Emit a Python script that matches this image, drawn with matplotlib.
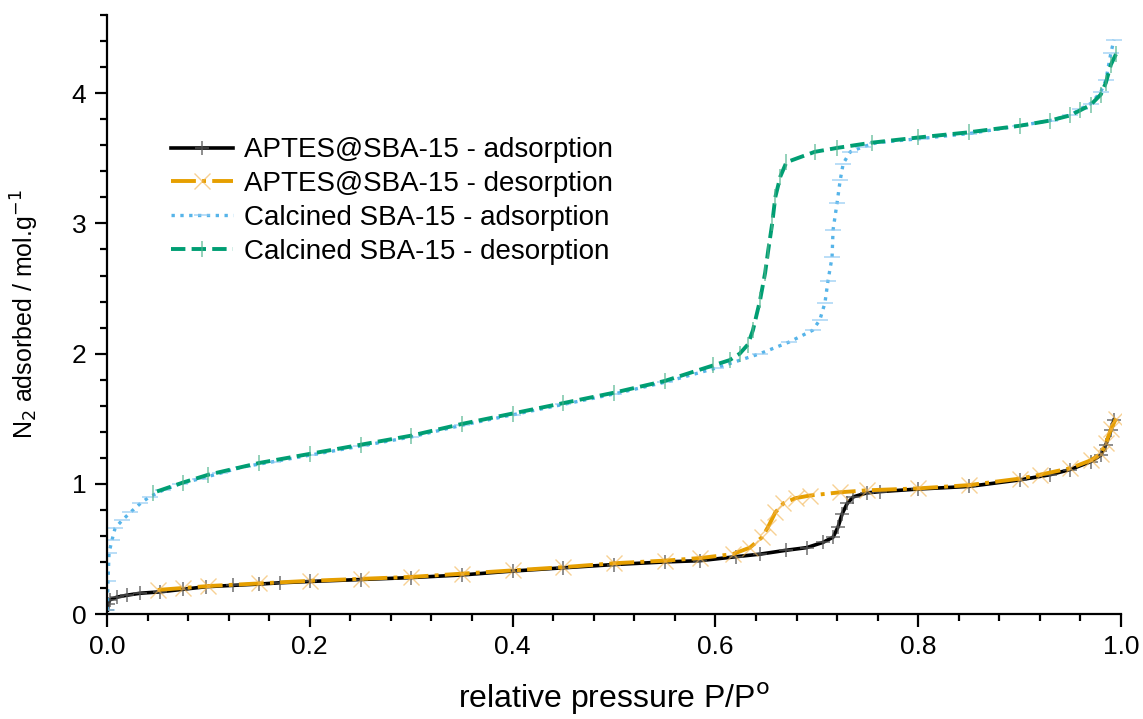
import matplotlib
matplotlib.use("Agg")
import matplotlib.pyplot as plt
from matplotlib.ticker import MultipleLocator

plt.rcParams['font.family'] = ['Liberation Sans', 'DejaVu Sans']

# APTES@SBA-15 adsorption
aptes_ads_p = [0.0005, 0.001, 0.003, 0.01, 0.02, 0.033, 0.052, 0.075, 0.098, 0.124,
               0.15, 0.171, 0.2, 0.25, 0.3, 0.35, 0.4, 0.45, 0.5, 0.55,
               0.585, 0.62, 0.644, 0.67, 0.69, 0.706, 0.716, 0.721, 0.725, 0.73,
               0.736, 0.749, 0.762, 0.8, 0.85, 0.9, 0.93, 0.95, 0.97, 0.98,
               0.985, 0.99, 0.993]
aptes_ads_v = [0.03, 0.08, 0.11, 0.13, 0.145, 0.16, 0.17, 0.19, 0.21, 0.22,
               0.23, 0.24, 0.25, 0.265, 0.28, 0.30, 0.33, 0.355, 0.38, 0.40,
               0.41, 0.44, 0.46, 0.49, 0.51, 0.55, 0.59, 0.67, 0.77, 0.85,
               0.90, 0.93, 0.94, 0.96, 0.98, 1.03, 1.07, 1.11, 1.17, 1.22,
               1.30, 1.41, 1.49]

# APTES@SBA-15 desorption
aptes_des_p = [0.995, 0.99, 0.985, 0.98, 0.97, 0.95, 0.92, 0.9, 0.85, 0.8,
               0.749, 0.723, 0.693, 0.679, 0.667, 0.659, 0.652, 0.646, 0.634, 0.617,
               0.585, 0.55, 0.5, 0.45, 0.4, 0.35, 0.3, 0.25, 0.2, 0.15,
               0.1, 0.075, 0.05]
aptes_des_v = [1.50, 1.42, 1.31, 1.23, 1.18, 1.12, 1.07, 1.04, 0.99, 0.965,
               0.95, 0.935, 0.91, 0.89, 0.85, 0.78, 0.67, 0.59, 0.51, 0.46,
               0.43, 0.41, 0.39, 0.36, 0.335, 0.31, 0.285, 0.27, 0.255, 0.235,
               0.215, 0.20, 0.185]

# Calcined SBA-15 adsorption
calc_ads_p = [0.0003, 0.001, 0.002, 0.005, 0.008, 0.015, 0.023, 0.033, 0.042, 0.055,
              0.072, 0.092, 0.111, 0.134, 0.164, 0.2, 0.25, 0.3, 0.35, 0.4,
              0.45, 0.5, 0.55, 0.601, 0.644, 0.673, 0.696, 0.703, 0.708, 0.711,
              0.715, 0.716, 0.72, 0.723, 0.726, 0.733, 0.746, 0.759, 0.8, 0.85,
              0.9, 0.93, 0.95, 0.96, 0.97, 0.98, 0.985, 0.99, 0.993]
calc_ads_v = [0.03, 0.25, 0.47, 0.57, 0.66, 0.72, 0.78, 0.85, 0.90, 0.95,
              1.00, 1.04, 1.08, 1.13, 1.17, 1.22, 1.29, 1.36, 1.45, 1.53,
              1.61, 1.69, 1.78, 1.89, 2.00, 2.09, 2.18, 2.26, 2.39, 2.56,
              2.74, 2.95, 3.16, 3.33, 3.46, 3.55, 3.59, 3.62, 3.65, 3.69,
              3.75, 3.79, 3.83, 3.88, 3.92, 4.01, 4.10, 4.31, 4.41]

# Calcined SBA-15 desorption
calc_des_p = [0.995, 0.99, 0.985, 0.98, 0.97, 0.96, 0.95, 0.93, 0.9, 0.85,
              0.8, 0.754, 0.72, 0.698, 0.67, 0.664, 0.659, 0.656, 0.652, 0.649,
              0.644, 0.637, 0.632, 0.624, 0.614, 0.598, 0.55, 0.5, 0.45, 0.4,
              0.35, 0.3, 0.25, 0.2, 0.15, 0.1, 0.075, 0.045]
calc_des_v = [4.30, 4.22, 4.08, 3.99, 3.91, 3.87, 3.83, 3.79, 3.75, 3.70,
              3.66, 3.62, 3.58, 3.55, 3.47, 3.36, 3.20, 3.00, 2.79, 2.62,
              2.41, 2.18, 2.07, 2.00, 1.95, 1.91, 1.79, 1.70, 1.62, 1.54,
              1.46, 1.37, 1.30, 1.23, 1.16, 1.07, 1.01, 0.93]

fig = plt.figure(figsize=(11.43, 7.19), dpi=100)
ax = fig.add_axes([0.0936, 0.146, 0.8872, 0.833])

ax.plot(aptes_ads_p, aptes_ads_v, color='black', lw=2.6, ls='-',
        marker='+', ms=10, mew=1.2, mec=(0.35, 0.35, 0.35, 0.8),
        label='APTES@SBA-15 - adsorption')
ax.plot(aptes_des_p, aptes_des_v, color='#E69F00', lw=2.8, ls='-.',
        marker='x', ms=11, mew=1.0, mec=(0.95, 0.7, 0.3, 0.6),
        label='APTES@SBA-15 - desorption')
ax.plot(calc_ads_p, calc_ads_v, color='#56B4E9', lw=2.4, ls=':',
        marker='_', ms=12, mew=1.2, mec=(0.55, 0.78, 0.95, 0.7),
        label='Calcined SBA-15 - adsorption')
ax.plot(calc_des_p, calc_des_v, color='#009E73', lw=2.8, ls='--',
        marker='|', ms=11, mew=1.2, mec=(0.3, 0.7, 0.55, 0.7),
        label='Calcined SBA-15 - desorption')

ax.set_xlim(0, 1.0)
ax.set_ylim(0, 4.6)
ax.xaxis.set_major_locator(MultipleLocator(0.2))
ax.xaxis.set_minor_locator(MultipleLocator(0.04))
ax.yaxis.set_major_locator(MultipleLocator(1))
ax.yaxis.set_minor_locator(MultipleLocator(0.2))
ax.set_xticks([0.0, 0.2, 0.4, 0.6, 0.8, 1.0])
ax.set_xticklabels(['0.0', '0.2', '0.4', '0.6', '0.8', '1.0'])
ax.set_yticks([0, 1, 2, 3, 4])

for s in ['top', 'right']:
    ax.spines[s].set_visible(False)
for s in ['left', 'bottom']:
    ax.spines[s].set_linewidth(1.6)

ax.tick_params(which='major', direction='out', length=9, width=1.6,
               labelsize=19, pad=6)
ax.tick_params(which='minor', direction='out', length=5, width=1.6)

ax.set_xlabel('relative pressure P/P$^{\\mathrm{o}}$', fontsize=23, labelpad=16)
ax.set_ylabel('N$_2$ adsorbed / mol.g$^{-1}$', fontsize=18, labelpad=22)

ax.legend(loc='upper left', bbox_to_anchor=(0.150, 0.809),
          bbox_transform=fig.transFigure, frameon=False, fontsize=20,
          handlelength=2.2, handletextpad=0.4, labelspacing=0.28,
          numpoints=1, borderaxespad=0, borderpad=0)

fig.savefig('out.png', dpi=100, facecolor='white')
